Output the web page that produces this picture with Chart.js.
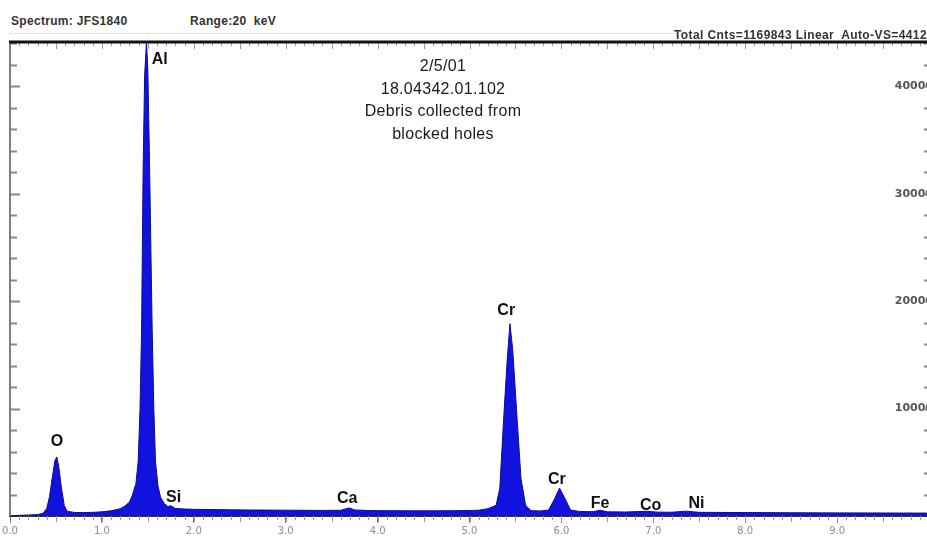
<!DOCTYPE html>
<html><head><meta charset="utf-8">
<script src="https://cdn.jsdelivr.net/npm/chart.js@4"></script>
<style>
html,body{margin:0;padding:0;width:927px;height:539px;overflow:hidden;background:#fff;}
#wrap{position:absolute;left:0;top:0;width:937px;height:539px;}
.hdr{position:absolute;font-family:"Liberation Sans",Arial,sans-serif;font-weight:bold;font-size:12px;color:#333;white-space:nowrap;line-height:14px;}
#dots{position:absolute;left:10px;top:33px;width:668px;border-top:1px dotted #d0d0d0;}
#note{position:absolute;left:323px;width:240px;top:55px;text-align:center;font-family:"Liberation Sans",Arial,sans-serif;font-size:16px;letter-spacing:0.3px;line-height:22.5px;color:#1a1a1a;}
</style></head>
<body>
<div class="hdr" style="left:11px;top:14px;letter-spacing:0.3px">Spectrum: JFS1840</div>
<div class="hdr" style="left:190px;top:14px;letter-spacing:0.3px">Range:20&nbsp; keV</div>
<div id="dots"></div>
<div id="wrap"><canvas id="c" width="937" height="539"></canvas></div>
<div class="hdr" style="right:0;top:28px;letter-spacing:0.4px">Total Cnts=1169843 Linear&nbsp; Auto-VS=4412</div>
<div id="note">2/5/01<br>18.04342.01.102<br>Debris collected from<br>blocked holes</div>
<script>
// ---- data ----
const energyKeV = [0.00,0.10,0.20,0.30,0.36,0.40,0.43,0.46,0.49,0.51,0.53,0.56,0.59,0.62,0.70,0.80,0.90,1.00,1.10,1.20,
  1.25,1.30,1.33,1.37,1.395,1.415,1.432,1.448,1.465,1.485,1.50,1.518,1.547,1.565,1.583,1.61,1.64,1.68,1.72,1.74,1.76,1.80,
  1.90,2.00,2.20,2.40,2.60,2.80,3.00,3.20,3.40,3.60,3.69,3.75,3.90,4.00,4.20,4.40,4.60,4.80,5.00,5.10,5.20,
  5.29,5.33,5.37,5.41,5.44,5.47,5.52,5.56,5.61,5.67,5.77,5.86,5.92,5.98,6.04,6.10,6.20,6.35,6.42,6.50,6.70,6.93,7.05,7.20,7.35,7.50,8.00,8.50,9.00,9.50,10.00];
const counts = [0,60,90,130,250,700,1800,3600,5200,5500,4600,2600,1000,450,330,320,340,390,480,680,
  920,1300,1900,3000,5100,10000,17400,32000,41000,44120,41500,33000,17400,10000,5100,2800,1700,1150,850,950,900,700,
  650,620,600,580,560,550,540,530,520,530,750,570,510,500,490,480,480,490,510,540,680,
  1000,2600,8800,14500,17900,15500,8800,3500,1000,500,470,550,1500,2600,1600,550,420,400,540,390,370,440,360,350,450,340,320,300,290,280,270];
const xTickLabels = ['0.0','1.0','2.0','3.0','4.0','5.0','6.0','7.0','8.0','9.0'];
const yTickValues = [10000,20000,30000,40000];
const yMax = 44120;
const peakNames = ['O','Al','Si','Ca','Cr','Cr','Fe','Co','Ni'];
const peakLabelE = [0.51,1.63,1.78,3.67,5.40,5.95,6.42,6.97,7.47];
const peakLabelCounts = [6950,42460,1700,1600,19100,3430,1150,980,1150];

const decor = {
  id:'decor',
  afterDraw(chart){
    const {ctx, chartArea:a, scales:{x,y}} = chart;
    ctx.save();
    // inward minor ticks, left and right
    ctx.strokeStyle='#8a8a8a'; ctx.lineWidth=2;
    ctx.beginPath();
    for(let v=2000; v<yMax; v+=2000){
      const py=Math.round(y.getPixelForValue(v))+0.5;
      ctx.moveTo(a.left,py); ctx.lineTo(a.left+(v%10000===0?10:7),py);
      ctx.moveTo(a.right,py); ctx.lineTo(a.right-5,py);
    }
    ctx.stroke();
    // top ticks (inside) and bottom ticks (outside)
    ctx.lineWidth=1; ctx.strokeStyle='#999';
    ctx.beginPath();
    for(let i=1;i<100;i++){
      const px=Math.round(x.getPixelForValue(i/10))+0.5;
      const big=i%5===0;
      ctx.moveTo(px,a.top); ctx.lineTo(px,a.top+(big?7:4));
      ctx.moveTo(px,a.bottom); ctx.lineTo(px,a.bottom+(big?6:4));
    }
    ctx.stroke();
    // frame
    ctx.strokeStyle='#808080'; ctx.lineWidth=2;
    ctx.beginPath(); ctx.moveTo(a.left,a.top); ctx.lineTo(a.left,a.bottom); ctx.stroke();
    ctx.strokeStyle='#111'; ctx.lineWidth=3;
    ctx.beginPath(); ctx.moveTo(a.left-1,a.top); ctx.lineTo(a.right+10,a.top); ctx.stroke();
    // peak labels
    ctx.fillStyle='#111'; ctx.font='bold 16px "Liberation Sans", Arial, sans-serif';
    ctx.textAlign='center'; ctx.textBaseline='middle';
    peakNames.forEach((n,i)=>ctx.fillText(n, x.getPixelForValue(peakLabelE[i]), y.getPixelForValue(peakLabelCounts[i])));
    ctx.restore();
  }
};

new Chart(document.getElementById('c'), {
  type:'line',
  data:{ datasets:[{
    data: energyKeV.map((e,i)=>({x:e,y:counts[i]})),
    fill:'origin', backgroundColor:'#1212de', borderColor:'#0c0c95', borderWidth:1,
    pointRadius:0, tension:0
  }]},
  options:{
    responsive:false, animation:false, events:[], devicePixelRatio:1,
    layout:{padding:{top:42,left:10,right:0,bottom:0}},
    plugins:{legend:{display:false}, tooltip:{enabled:false}},
    scales:{
      x:{type:'linear', min:0, max:10, position:'bottom',
        afterBuildTicks:s=>{ s.ticks = xTickLabels.map((l,i)=>({value:i})); },
        ticks:{callback:(v)=>xTickLabels[Math.round(v)] ?? '', autoSkip:false, maxRotation:0,
          font:{size:10, family:'"DejaVu Sans", sans-serif'}, color:'#8c8c8c', padding:2},
        grid:{drawOnChartArea:false, tickLength:7, color:'#777', lineWidth:1},
        border:{color:'#333', width:2}},
      y:{position:'right', min:0, max:yMax,
        afterBuildTicks:s=>{ s.ticks = [0].concat(yTickValues).map(v=>({value:v})); },
        ticks:{mirror:true, callback:(v)=> v===0 ? '' : String(v),
          font:{size:11, weight:'bold', family:'"DejaVu Sans", sans-serif'}, color:'#555', padding:4},
        grid:{display:false, drawTicks:false},
        border:{display:true, color:'#444', width:2}}
    }
  },
  plugins:[decor]
});
</script>
</body></html>
